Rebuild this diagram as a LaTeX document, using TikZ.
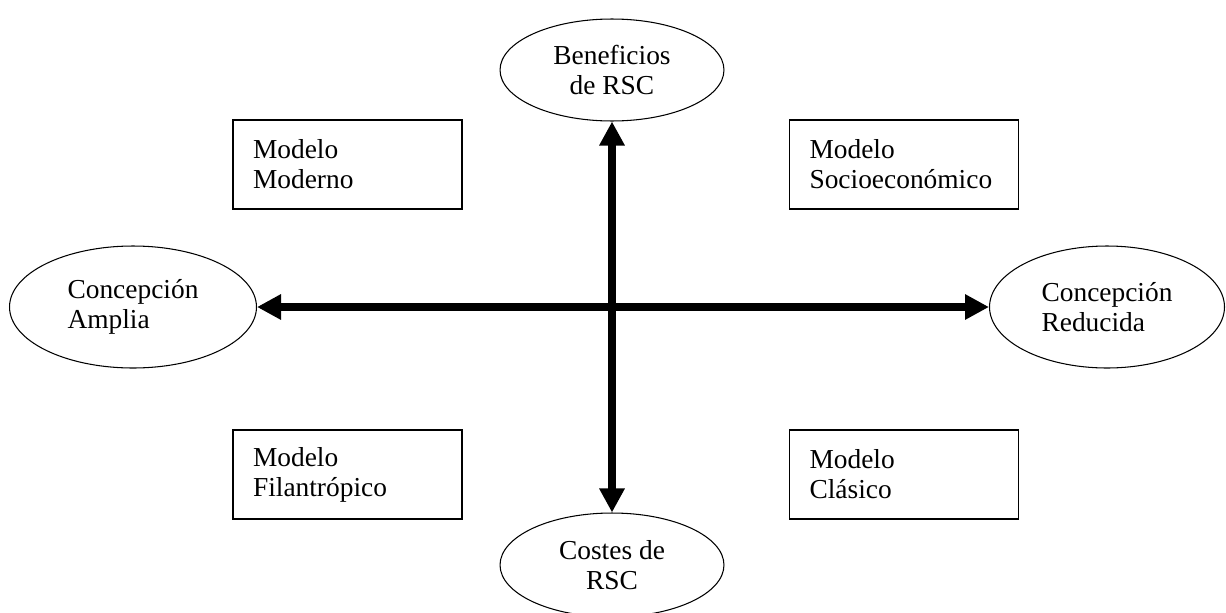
\documentclass[tikz,border=0pt]{standalone}
\usepackage{fontspec}
\setmainfont{Liberation Serif}
\usetikzlibrary{shapes.geometric,arrows.meta}

\tikzset{
  concepto/.style={draw,ellipse,line width=0.6pt,inner sep=0pt,minimum width=4.48cm,minimum height=2.04cm,font=\fontsize{15.6}{17}\selectfont},
  modelo/.style={draw,rectangle,line width=0.8pt,minimum width=4.58cm,minimum height=1.78cm,text width=3.78cm,inner xsep=0.4cm,inner ysep=0pt,align=left,font=\fontsize{15.6}{17}\selectfont},
  eje/.style={line width=4pt,{Triangle[length=0.48cm,width=0.48cm]}-{Triangle[length=0.48cm,width=0.48cm]}}
}

\begin{document}
\begin{tikzpicture}[x=0.02cm,y=-0.02cm]
\useasboundingbox (0,0) rectangle (1226,612);
% ejes
\node[concepto,align=center] (beneficios) at (612,70) {Beneficios\\de RSC};
\node[concepto,align=center,minimum height=2.08cm] (costes) at (612,565) {Costes de\\RSC};
\node[concepto,align=left,minimum width=4.94cm,minimum height=2.44cm] (amplia) at (133,307) {Concepción\\Amplia};
\node[concepto,align=left,minimum width=4.7cm,minimum height=2.44cm] (reducida) at (1107,307) {Concepción\\Reducida};
\draw[eje] (amplia) -- (reducida);
\draw[eje] (beneficios) -- (costes);
% modelos
\node[modelo] (moderno) at (347.5,164.5) {Modelo\\Moderno};
\node[modelo] (socioeconomico) at (904,164.5) {Modelo\\Socioeconómico};
\node[modelo] (filantropico) at (347.5,474.5) {Modelo\\Filantrópico};
\node[modelo] (clasico) at (904,474.5) {Modelo\\Clásico};
\end{tikzpicture}
\end{document}
